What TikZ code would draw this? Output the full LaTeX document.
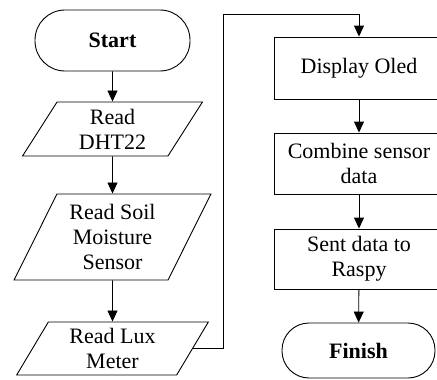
\documentclass[tikz,border=0pt]{standalone}
\usepackage{fontspec}
\setmainfont{Liberation Serif}
\usetikzlibrary{shapes.geometric,arrows.meta}
\begin{document}
\begin{tikzpicture}[x=1pt,y=-1pt,
  every node/.style={font=\fontsize{22}{25}\selectfont, align=center, draw, line width=0.9pt, inner sep=2pt},
  terminal/.style={rectangle, rounded corners=#1, font=\fontsize{22}{25}\selectfont\bfseries},
  io/.style={trapezium, trapezium left angle=63.43, trapezium right angle=116.57, trapezium stretches=true},
  process/.style={rectangle, minimum width=170pt},
  flow/.style={line width=0.9pt, -{Triangle[length=11pt,width=10pt]}}
]
\clip (0,0) rectangle (437,380);
\node[terminal=30pt, minimum width=155pt, minimum height=61pt] (start) at (112.5,40.5) {Start};
\node[io, minimum width=180pt, minimum height=54pt] (dht) at (112.5,129) {Read\\DHT22};
\node[io, minimum width=197pt, minimum height=86pt] (soil) at (112.5,237) {Read Soil\\Moisture\\Sensor};
\node[io, minimum width=192pt, minimum height=53pt] (lux) at (112.5,348.5) {Read Lux\\Meter};
\node[process, minimum height=62pt] (oled) at (359,68) {Display Oled};
\node[process, minimum height=61pt] (comb) at (359,163.5) {Combine sensor\\data};
\node[process, minimum height=60pt] (sent) at (359,259) {Sent data to\\Raspy};
\node[terminal=27pt, minimum width=153pt, minimum height=55pt] (fin) at (358.5,350.5) {Finish};
\coordinate (c1) at (223,14);
\draw[flow] (start) -- (dht);
\draw[flow] (dht) -- (soil);
\draw[flow] (soil) -- (lux);
\draw[flow] (lux.east) -| (c1) -| (oled.north);
\draw[flow] (oled) -- (comb);
\draw[flow] (comb) -- (sent);
\draw[flow] (sent) -- (fin);
\end{tikzpicture}
\end{document}
